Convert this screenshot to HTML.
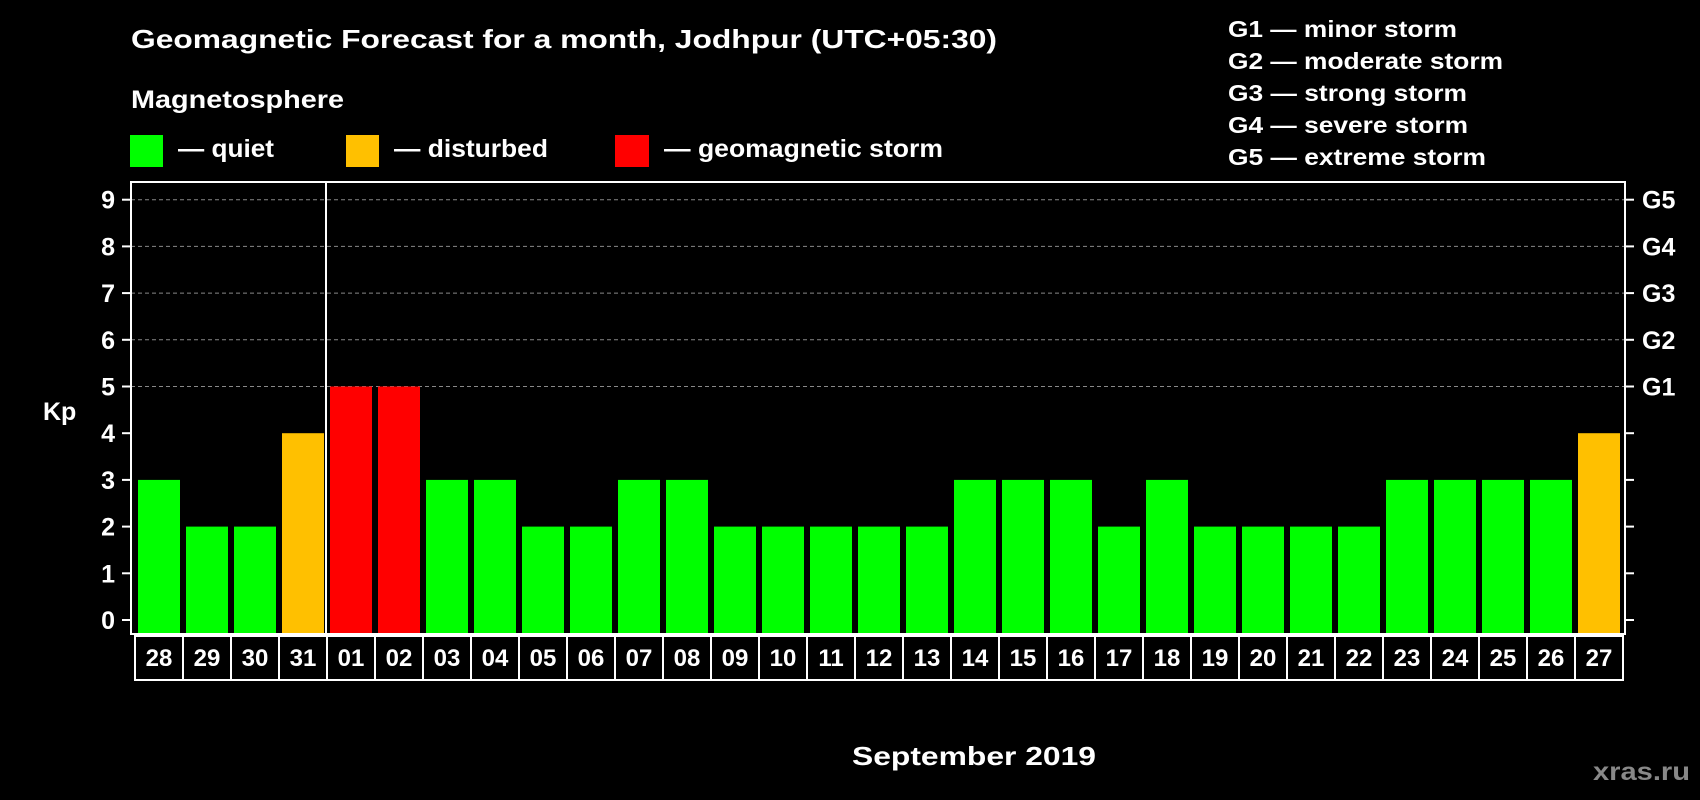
<!DOCTYPE html>
<html><head><meta charset="utf-8"><style>
html,body{margin:0;padding:0;background:#000;}
svg{display:block;font-family:"Liberation Sans",Arial,sans-serif;font-weight:bold;}
</style></head><body>
<svg id="chart" width="1700" height="800" viewBox="0 0 1700 800">
<rect width="1700" height="800" fill="#000"/>
<text x="131" y="48" fill="#fff" font-size="26" textLength="866" lengthAdjust="spacingAndGlyphs">Geomagnetic Forecast for a month, Jodhpur (UTC+05:30)</text>
<text x="131" y="108" fill="#fff" font-size="25" textLength="213" lengthAdjust="spacingAndGlyphs">Magnetosphere</text>
<rect x="130" y="135" width="33" height="32" fill="#00ff00"/>
<text x="178" y="157" fill="#fff" font-size="25" textLength="96" lengthAdjust="spacingAndGlyphs">— quiet</text>
<rect x="346" y="135" width="33" height="32" fill="#ffc000"/>
<text x="394" y="157" fill="#fff" font-size="25" textLength="154" lengthAdjust="spacingAndGlyphs">— disturbed</text>
<rect x="615" y="135" width="34" height="32" fill="#ff0000"/>
<text x="664" y="157" fill="#fff" font-size="25" textLength="279" lengthAdjust="spacingAndGlyphs">— geomagnetic storm</text>
<g fill="#fff" font-size="23">
<text x="1228" y="37" textLength="229" lengthAdjust="spacingAndGlyphs">G1 — minor storm</text>
<text x="1228" y="69" textLength="275" lengthAdjust="spacingAndGlyphs">G2 — moderate storm</text>
<text x="1228" y="101" textLength="239" lengthAdjust="spacingAndGlyphs">G3 — strong storm</text>
<text x="1228" y="133" textLength="240" lengthAdjust="spacingAndGlyphs">G4 — severe storm</text>
<text x="1228" y="165" textLength="258" lengthAdjust="spacingAndGlyphs">G5 — extreme storm</text>
</g>
<text x="43" y="420" fill="#fff" font-size="25">Kp</text>
<text x="852" y="765" fill="#fff" font-size="26" textLength="244" lengthAdjust="spacingAndGlyphs">September 2019</text>
<text x="1593" y="780" fill="#888" font-size="25" textLength="97" lengthAdjust="spacingAndGlyphs">xras.ru</text>
<g id="plot"></g>
</svg>
<script>
const days = ["28","29","30","31","01","02","03","04","05","06","07","08","09","10","11","12","13","14","15","16","17","18","19","20","21","22","23","24","25","26","27"];
const kpValues = [3,2,2,4,5,5,3,3,2,2,3,3,2,2,2,2,2,3,3,3,2,3,2,2,2,2,3,3,3,3,4];
const yTicks = [0,1,2,3,4,5,6,7,8,9];
const gLabels = ["G1","G2","G3","G4","G5"];
const gLevels = [5,6,7,8,9];
const gridLevels = [5,6,7,8,9];
const monthStartIndex = 4;

const NS = "http://www.w3.org/2000/svg";
const plot = document.getElementById("plot");
const L = 131, R = 1625, T = 182, B = 634;
const slot0 = 135, slotW = 48;
function yScale(v){ return 620 - v * 46.7; }
function xSlot(i){ return slot0 + i * slotW; }
function mk(tag, attrs){ const e = document.createElementNS(NS, tag); for (const k in attrs) e.setAttribute(k, attrs[k]); plot.appendChild(e); return e; }
function color(v){ return v >= 5 ? "#ff0000" : (v >= 4 ? "#ffc000" : "#00ff00"); }

gridLevels.forEach(v => {
  const g = mk("line", {x1: L, x2: R, y1: yScale(v), y2: yScale(v), stroke: "#888", "stroke-width": 1, "stroke-dasharray": "4,3"});
  
  
});
kpValues.forEach((v, i) => {
  const y = yScale(v);
  const b = mk("rect", {x: xSlot(i) + 3, y: y, width: 42, height: B - y, fill: color(v)});
  
  
});
const frame = mk("rect", {x: L, y: T, width: R - L, height: B - T, fill: "none", stroke: "#fff", "stroke-width": 2});


const div = mk("line", {x1: xSlot(monthStartIndex) - 1, x2: xSlot(monthStartIndex) - 1, y1: T, y2: B, stroke: "#fff", "stroke-width": 2});


yTicks.forEach(v => {
  const y = yScale(v);
  const t = mk("line", {x1: L - 9, x2: L, y1: y, y2: y, stroke: "#fff", "stroke-width": 2});
  
  
  const t2 = mk("line", {x1: R, x2: R + 9, y1: y, y2: y, stroke: "#fff", "stroke-width": 2});
  
  
  const lb = mk("text", {x: 115, y: y + 9, fill: "#fff", "font-size": 25, "text-anchor": "end"});
  lb.textContent = v;
  
  
});
gLabels.forEach((g, i) => {
  const lb = mk("text", {x: 1642, y: yScale(gLevels[i]) + 9, fill: "#fff", "font-size": 25});
  lb.textContent = g;
  
  
});
const box = mk("rect", {x: slot0, y: 636, width: slotW * days.length, height: 44, fill: "none", stroke: "#fff", "stroke-width": 2});


days.forEach((d, i) => {
  if (i > 0) {
    const s = mk("line", {x1: xSlot(i), x2: xSlot(i), y1: 636, y2: 680, stroke: "#fff", "stroke-width": 2});
    
    
  }
  const lb = mk("text", {x: xSlot(i) + slotW / 2, y: 666, fill: "#fff", "font-size": 24, "text-anchor": "middle"});
  lb.textContent = d;
  
  
});
</script>
</body></html>
